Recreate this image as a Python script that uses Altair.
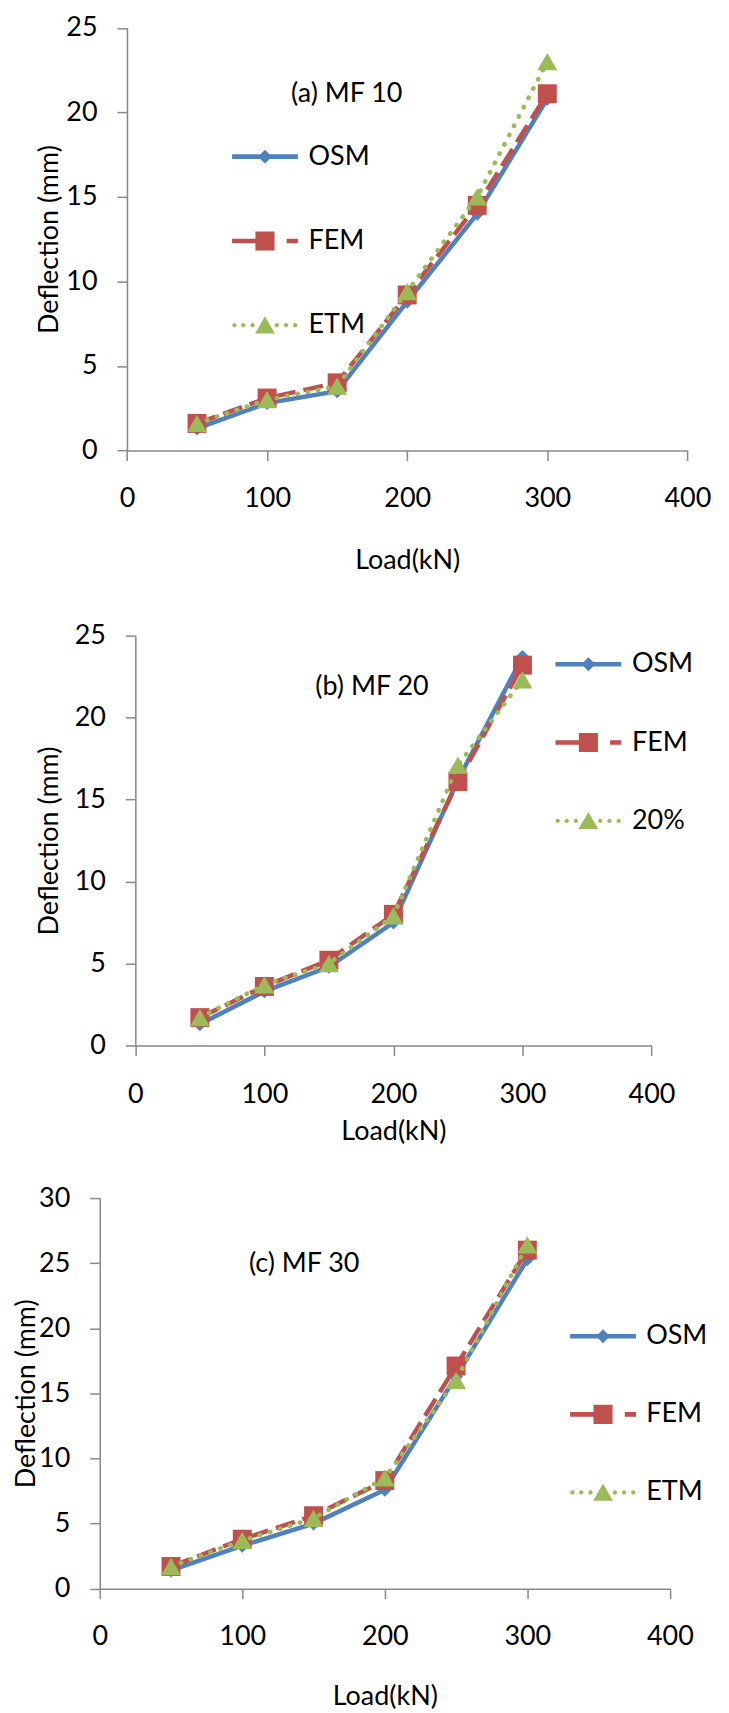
import altair as alt
import pandas as pd

# ---------------- data ----------------
loads = [50, 100, 150, 200, 250, 300]

a_names = ["OSM", "FEM", "ETM"]
a_osm = [1.3, 2.8, 3.5, 8.8, 14.0, 20.8]
a_fem = [1.6, 3.1, 4.0, 9.2, 14.5, 21.1]
a_etm = [1.6, 3.0, 3.8, 9.4, 15.0, 23.0]

b_names = ["OSM", "FEM", "20%"]
b_osm = [1.3, 3.3, 4.8, 7.5, 16.2, 23.7]
b_fem = [1.7, 3.6, 5.2, 8.0, 16.1, 23.2]
b_etm = [1.7, 3.7, 5.0, 7.9, 17.1, 22.3]

c_names = ["OSM", "FEM", "ETM"]
c_osm = [1.4, 3.3, 5.0, 7.6, 16.3, 25.3]
c_fem = [1.7, 3.8, 5.6, 8.3, 17.1, 26.0]
c_etm = [1.7, 3.7, 5.4, 8.5, 16.0, 26.4]

x_ticks = [0, 100, 200, 300, 400]
y_ticks_ab = [0, 5, 10, 15, 20, 25]
y_ticks_c = [0, 5, 10, 15, 20, 25, 30]

# ---------------- style ----------------
COLORS = ["#4F81BD", "#C0504D", "#9BBB59"]
FONT = "Lato"
FS = 27
AX = "#888888"
SHAPES = ["diamond", "square", "triangle-up"]
SIZES = [196, 361, 400]
LINE_STYLES = [
    dict(strokeWidth=4.5),
    dict(strokeWidth=4.5, strokeDash=[20, 8]),
    dict(strokeWidth=4.5, strokeDash=[0.5, 10], strokeCap="round"),
]


def dot(cx, r=0.065):
    return f"M{cx - r:.3f},0a{r},{r} 0 1,0 {2 * r},0a{r},{r} 0 1,0 {-2 * r},0Z"


LEGEND_PATHS = [
    "M-1,-0.07H1V0.07H-1Z M0,-0.21L0.21,0L0,0.21L-0.21,0Z",
    "M-1,-0.07H-0.2V0.07H-1Z M-0.29,-0.29H0.29V0.29H-0.29Z M0.66,-0.07H1V0.07H0.66Z",
    " ".join(dot(c) for c in [-0.93, -0.66, -0.38, 0.36, 0.64, 0.92])
    + " M0,-0.27L0.3,0.25L-0.3,0.25Z",
]

W = 715


def panel(names, series, yticks, xr, yr, H, yoff, xlab_pad, xtitle_y, ytitle_x,
          title, tdx, tdy, lx, ly, loff, rpad):
    rows = []
    for name, vals in zip(names, series):
        for l, v in zip(loads, vals):
            rows.append({"load": l, "defl": v, "series": name})
    df = pd.DataFrame(rows)

    x = alt.X(
        "load:Q",
        scale=alt.Scale(domain=[0, 400], range=xr, nice=False, zero=False),
        axis=alt.Axis(
            values=x_ticks, title="Load(kN)", grid=False, tickSize=10,
            labelPadding=xlab_pad, labelBaseline="middle", labelFlush=False,
            labelOverlap=False, titleY=xtitle_y, titleBaseline="middle",
            domainColor=AX, tickColor=AX, domainWidth=1.5, tickWidth=1.5,
            labelFont=FONT, labelFontSize=FS, labelColor="black",
            titleFont=FONT, titleFontSize=FS, titleFontWeight="normal",
            titleColor="black",
        ),
    )
    y = alt.Y(
        "defl:Q",
        scale=alt.Scale(domain=[yticks[0], yticks[-1]], range=yr, nice=False),
        axis=alt.Axis(
            values=yticks, title="Deflection (mm)", grid=False, tickSize=10,
            labelPadding=20, offset=yoff, labelOverlap=False, labelFlush=False,
            titleX=ytitle_x, titleBaseline="middle", titleAlign="center",
            domainColor=AX, tickColor=AX, domainWidth=1.5, tickWidth=1.5,
            labelFont=FONT, labelFontSize=FS, labelColor="black",
            titleFont=FONT, titleFontSize=FS, titleFontWeight="normal",
            titleColor="black",
        ),
    )

    layers = []
    for i, name in enumerate(names):
        base = alt.Chart(df).transform_filter(alt.datum.series == name)
        layers.append(base.mark_line(color=COLORS[i], **LINE_STYLES[i]).encode(x=x, y=y))
        layers.append(
            base.mark_point(shape=SHAPES[i], size=SIZES[i], filled=True,
                            color=COLORS[i], opacity=1).encode(x=x, y=y)
        )

    leg = alt.Legend(
        title=None, orient="none", legendX=lx, legendY=ly, padding=0,
        symbolSize=4356, symbolStrokeWidth=0, symbolOpacity=1,
        labelFont=FONT, labelFontSize=FS, labelColor="black",
        labelOffset=loff, rowPadding=rpad,
    )
    legend_layer = (
        alt.Chart(df).transform_filter("false").mark_point(filled=True, opacity=1)
        .encode(
            color=alt.Color("series:N", scale=alt.Scale(domain=names, range=COLORS), legend=leg),
            shape=alt.Shape("series:N", scale=alt.Scale(domain=names, range=LEGEND_PATHS), legend=leg),
        )
    )
    layers.append(legend_layer)

    return alt.layer(*layers).properties(
        width=W, height=H,
        title=alt.TitleParams(
            text=title, anchor="start", frame="group", orient="top", offset=0,
            dx=tdx, dy=tdy, align="center", baseline="middle",
            font=FONT, fontSize=FS, fontWeight="normal", color="black",
        ),
    )


pa = panel(a_names, [a_osm, a_fem, a_etm], y_ticks_ab,
           xr=[119.3, 681.3], yr=[441.3, 17.5], H=441.3, yoff=-119.3,
           xlab_pad=38.5, xtitle_y=110.7, ytitle_x=-78,
           title="(a) MF 10", tdx=339.7, tdy=110.5,
           lx=224.7, ly=113.7, loff=10.7, rpad=38.5)

pb = panel(b_names, [b_osm, b_fem, b_etm], y_ticks_ab,
           xr=[127.7, 645.3], yr=[596, 185], H=596, yoff=-127.7,
           xlab_pad=39.2, xtitle_y=86.7, ytitle_x=-86.5,
           title="(b) MF 20", tdx=365, tdy=263.2,
           lx=549, ly=180.7, loff=10.7, rpad=32.5)

pc = panel(c_names, [c_osm, c_fem, c_etm], y_ticks_c,
           xr=[92, 663.7], yr=[544.7, 153], H=544.7, yoff=-92,
           xlab_pad=37.8, xtitle_y=108.3, ytitle_x=-73.3,
           title="(c) MF 30", tdx=297, tdy=245.7,
           lx=563.7, ly=258.6, loff=10.3, rpad=32.3)

chart = (
    alt.vconcat(pa, pb, pc, spacing=0, bounds="flush")
    .resolve_scale(x="independent", y="independent", color="independent", shape="independent")
    .resolve_legend(color="independent", shape="independent")
    .properties(padding=0, background="white")
    .configure_view(strokeWidth=0)
)

chart.save("out.html", embed_options={"renderer": "svg", "actions": False})
